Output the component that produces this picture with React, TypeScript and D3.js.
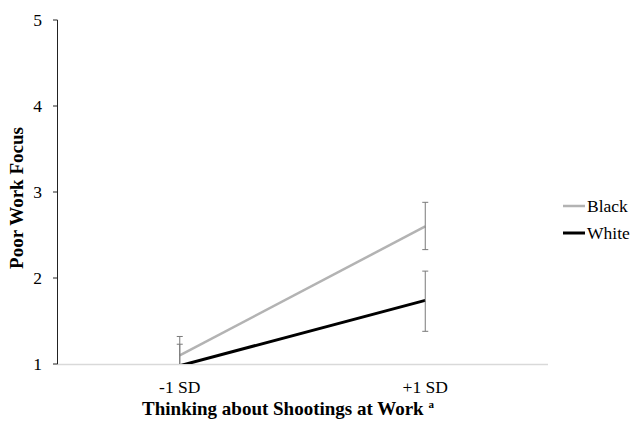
import React from "react";
import * as d3 from "d3";

const categories = ["-1 SD", "+1 SD"];
const seriesNames = ["Black", "White"];
const blackValues = [1.1, 2.6];
const blackLower = [0.88, 2.33];
const blackUpper = [1.32, 2.88];
const whiteValues = [0.98, 1.74];
const whiteLower = [0.75, 1.38];
const whiteUpper = [1.23, 2.08];
const yTicks = [1, 2, 3, 4, 5];

const W = 631;
const H = 421;
const FONT = "'Liberation Serif', 'Times New Roman', serif";

export default function App() {
  const x = d3.scalePoint<string>().domain(categories).range([57, 548]).padding(0.5);
  const y = d3.scaleLinear().domain([1, 5]).range([364, 20]);

  const series = [
    { name: seriesNames[0], values: blackValues, lo: blackLower, hi: blackUpper, color: "#b3b3b3", width: 2.5 },
    { name: seriesNames[1], values: whiteValues, lo: whiteLower, hi: whiteUpper, color: "#000000", width: 3 },
  ];

  const line = d3
    .line<number>()
    .x((_, i) => x(categories[i]) as number)
    .y((d) => y(d));

  return (
    <div style={{ position: "absolute", left: 0, top: 0 }}>
      <svg width={W} height={H} style={{ display: "block", background: "#fff" }}>
        <defs>
          <clipPath id="plot">
            <rect x={57} y={0} width={500} height={364} />
          </clipPath>
        </defs>
        {/* x axis */}
        <line x1={57} x2={548} y1={364.5} y2={364.5} stroke="#d9d9d9" strokeWidth={1.5} />
        {/* y axis */}
        <line x1={57.5} x2={57.5} y1={20} y2={364} stroke="#222" strokeWidth={1} />
        {yTicks.map((t) => (
          <g key={t}>
            <line x1={53} x2={57.5} y1={y(t)} y2={y(t)} stroke="#222" strokeWidth={1} />
            <text x={42} y={y(t)} dy="0.35em" textAnchor="end" fontFamily={FONT} fontSize={17.5} fill="#000">
              {t}
            </text>
          </g>
        ))}
        {categories.map((c) => (
          <text key={c} x={x(c)} y={393} textAnchor="middle" fontFamily={FONT} fontSize={17.5} fill="#000">
            {c}
          </text>
        ))}
        <g clipPath="url(#plot)">
          {series.map((s) => (
            <path key={s.name} d={line(s.values) as string} fill="none" stroke={s.color} strokeWidth={s.width} />
          ))}
          {series.map((s) =>
            categories.map((c, i) => {
              const cx = x(c) as number;
              return (
                <g key={s.name + c} stroke="#7a7a7a" strokeWidth={1}>
                  <line x1={cx} x2={cx} y1={y(s.lo[i])} y2={y(s.hi[i])} />
                  <line x1={cx - 3} x2={cx + 3} y1={y(s.lo[i])} y2={y(s.lo[i])} />
                  <line x1={cx - 3} x2={cx + 3} y1={y(s.hi[i])} y2={y(s.hi[i])} />
                </g>
              );
            })
          )}
        </g>
        {/* legend */}
        {series.map((s, i) => (
          <g key={s.name} transform={`translate(0, ${206 + i * 27})`}>
            <line x1={563} x2={585} y1={0} y2={0} stroke={s.color} strokeWidth={s.width} />
            <text x={587} y={0} dy="0.35em" fontFamily={FONT} fontSize={17.5} fill="#000">
              {s.name}
            </text>
          </g>
        ))}
        {/* axis titles */}
        <text x={288} y={415} textAnchor="middle" fontFamily={FONT} fontSize={19} fontWeight="bold" fill="#000">
          Thinking about Shootings at Work{" "}
          <tspan fontSize={11} dy={-7}>a</tspan>
        </text>
        <text
          transform={`translate(23, 198) rotate(-90)`}
          textAnchor="middle"
          fontFamily={FONT}
          fontSize={19}
          fontWeight="bold"
          fill="#000"
        >
          Poor Work Focus
        </text>
      </svg>
    </div>
  );
}
